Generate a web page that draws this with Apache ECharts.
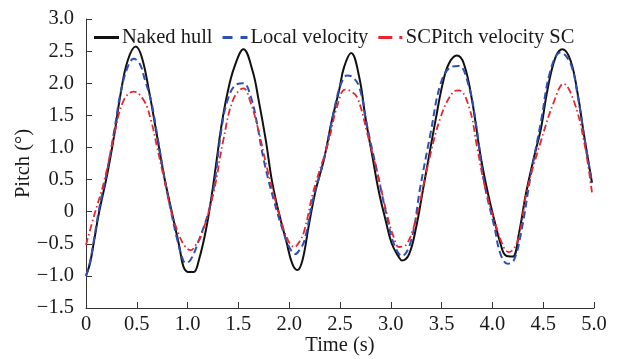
<!DOCTYPE html>
<html>
<head>
<meta charset="utf-8">
<script src="https://cdn.jsdelivr.net/npm/echarts@6/dist/echarts.min.js"></script>
<style>
  html, body { margin: 0; padding: 0; background: #fff; }
  #chart { width: 617px; height: 359px; }
</style>
</head>
<body>
<div id="chart"></div>
<script>
// pitch time histories
var nakedT = [0, 0.04, 0.08, 0.13, 0.21, 0.28, 0.34, 0.41, 0.49, 0.55, 0.62, 0.69, 0.77, 0.82, 0.87, 0.92, 0.96, 1.01, 1.06, 1.11, 1.18, 1.24, 1.29, 1.33, 1.39, 1.46, 1.55, 1.64, 1.70, 1.77, 1.83, 1.90, 1.97, 2.03, 2.08, 2.13, 2.19, 2.26, 2.34, 2.42, 2.49, 2.54, 2.61, 2.69, 2.75, 2.82, 2.88, 2.95, 3.01, 3.08, 3.11, 3.18, 3.25, 3.31, 3.38, 3.44, 3.51, 3.57, 3.65, 3.72, 3.80, 3.88, 3.95, 4.02, 4.08, 4.13, 4.20, 4.26, 4.33, 4.41, 4.48, 4.54, 4.62, 4.69, 4.77, 4.84, 4.90, 4.98];
var nakedV = [-1.0, -0.80, -0.45, 0.0, 0.59, 1.21, 1.83, 2.35, 2.57, 2.40, 1.88, 1.26, 0.54, 0.17, -0.19, -0.55, -0.86, -0.94, -0.94, -0.76, -0.29, 0.28, 0.85, 1.31, 1.83, 2.25, 2.53, 2.19, 1.73, 1.11, 0.48, -0.03, -0.45, -0.81, -0.91, -0.76, -0.24, 0.33, 0.80, 1.42, 1.88, 2.25, 2.47, 2.09, 1.47, 0.85, 0.33, -0.14, -0.50, -0.71, -0.76, -0.66, -0.24, 0.28, 0.90, 1.42, 1.99, 2.30, 2.43, 2.30, 1.73, 0.90, 0.33, -0.14, -0.50, -0.68, -0.70, -0.35, 0.28, 0.85, 1.31, 1.88, 2.40, 2.53, 2.35, 1.83, 1.21, 0.45];

var localT = [0, 0.04, 0.08, 0.13, 0.21, 0.28, 0.34, 0.41, 0.47, 0.53, 0.58, 0.64, 0.70, 0.77, 0.84, 0.90, 0.94, 0.98, 1.03, 1.11, 1.21, 1.27, 1.33, 1.39, 1.47, 1.55, 1.62, 1.68, 1.75, 1.85, 1.95, 2.01, 2.06, 2.10, 2.15, 2.24, 2.34, 2.44, 2.51, 2.57, 2.62, 2.69, 2.77, 2.87, 2.97, 3.03, 3.11, 3.20, 3.29, 3.39, 3.49, 3.59, 3.67, 3.77, 3.84, 3.92, 4.02, 4.08, 4.15, 4.21, 4.28, 4.38, 4.48, 4.57, 4.67, 4.77, 4.84, 4.90, 4.98];
var localV = [-1.0, -0.78, -0.42, 0.05, 0.65, 1.28, 1.85, 2.25, 2.38, 2.30, 2.05, 1.73, 1.20, 0.55, -0.02, -0.45, -0.68, -0.80, -0.75, -0.45, 0.02, 0.50, 1.25, 1.72, 1.97, 2.00, 1.80, 1.40, 0.80, 0.17, -0.35, -0.58, -0.66, -0.60, -0.45, 0.23, 0.80, 1.57, 1.99, 2.12, 2.10, 1.94, 1.31, 0.59, -0.14, -0.50, -0.69, -0.45, 0.38, 1.21, 1.99, 2.25, 2.27, 1.94, 1.35, 0.45, -0.24, -0.66, -0.81, -0.76, -0.35, 0.59, 1.42, 2.19, 2.48, 2.30, 1.80, 1.20, 0.45];

var scT = [0, 0.08, 0.18, 0.28, 0.37, 0.47, 0.57, 0.64, 0.70, 0.77, 0.84, 0.92, 0.98, 1.03, 1.08, 1.14, 1.26, 1.35, 1.45, 1.55, 1.62, 1.70, 1.78, 1.92, 1.99, 2.05, 2.10, 2.15, 2.24, 2.38, 2.47, 2.55, 2.60, 2.67, 2.77, 2.87, 2.97, 3.03, 3.08, 3.16, 3.26, 3.36, 3.49, 3.61, 3.67, 3.77, 3.85, 3.92, 4.02, 4.11, 4.16, 4.25, 4.34, 4.48, 4.61, 4.70, 4.80, 4.90, 4.98];
var scV = [-0.52, -0.06, 0.48, 1.21, 1.73, 1.87, 1.73, 1.42, 1.00, 0.50, 0.00, -0.38, -0.55, -0.60, -0.52, -0.35, 0.33, 1.10, 1.75, 1.92, 1.70, 1.25, 0.69, -0.14, -0.45, -0.55, -0.47, -0.29, 0.33, 1.05, 1.63, 1.90, 1.88, 1.78, 1.21, 0.59, -0.09, -0.40, -0.55, -0.50, -0.03, 0.69, 1.47, 1.86, 1.89, 1.63, 1.00, 0.43, -0.14, -0.55, -0.63, -0.45, 0.33, 1.11, 1.73, 1.99, 1.73, 1.11, 0.30];

var seriesNames = ['Naked hull', 'Local velocity', 'SCPitch velocity SC'];

function pairs(t, v) {
  var out = [];
  for (var i = 0; i < t.length; i++) out.push([t[i], v[i]]);
  return out;
}

function fmt(v) {
  if (v === 0) return '0';
  return v.toFixed(1).replace('-', '\u2212');
}

var font = 'Liberation Serif';
var fs = 20.5;
var txt = '#1a1a1a';
var black = '#111', blue = '#2f4fb3', red = '#e8262d';

var chart = echarts.init(document.getElementById('chart'));
var option = {
  animation: false,
  backgroundColor: '#fff',
  textStyle: { fontFamily: font, color: txt },
  grid: { left: 86, right: 23, top: 19, bottom: 51, containLabel: false, outerBoundsMode: 'none' },
  legend: {
    left: 89,
    top: 22,
    itemWidth: 25,
    itemHeight: 3,
    itemGap: 10,
    textStyle: { fontFamily: font, fontSize: fs, color: txt, padding: [0, 0, 0, -2] },
    data: [
      { name: seriesNames[0], icon: 'path://M0,0H25V3H0Z', itemStyle: { color: black } },
      { name: seriesNames[1], icon: 'path://M0,0H10V3H0Z M18,0H25V3H18Z', itemStyle: { color: blue } },
      { name: seriesNames[2], icon: 'path://M0,0H14V3H0Z M21,0H24V3H21Z', itemStyle: { color: red } }
    ]
  },
  xAxis: {
    type: 'value',
    min: 0,
    max: 5,
    interval: 0.5,
    name: 'Time (s)',
    nameLocation: 'middle',
    nameGap: 27,
    nameMoveOverlap: false,
    nameTextStyle: { fontFamily: font, fontSize: fs, color: txt },
    axisLine: { onZero: false, lineStyle: { color: '#333', width: 1 } },
    axisTick: { inside: true, length: 6, lineStyle: { color: '#333' } },
    axisLabel: { fontFamily: font, fontSize: fs, color: txt, margin: 6, formatter: fmt },
    splitLine: { show: false }
  },
  yAxis: {
    type: 'value',
    min: -1.5,
    max: 3,
    interval: 0.5,
    name: 'Pitch (°)',
    nameLocation: 'middle',
    nameGap: 52,
    nameMoveOverlap: false,
    nameTextStyle: { fontFamily: font, fontSize: fs, color: txt },
    axisLine: { show: true, onZero: false, lineStyle: { color: '#333', width: 1 } },
    axisTick: { show: true, inside: true, length: 6, lineStyle: { color: '#333' } },
    axisLabel: { fontFamily: font, fontSize: fs, color: txt, margin: 12, formatter: fmt },
    splitLine: { show: false }
  },
  series: [{
    name: seriesNames[0],
    type: 'line',
    smooth: 0.4,
    symbol: 'none',
    z: 3,
    itemStyle: { color: black },
    lineStyle: { color: black, width: 2 },
    data: pairs(nakedT, nakedV)
  }, {
    name: seriesNames[1],
    type: 'line',
    smooth: 0.4,
    symbol: 'none',
    z: 4,
    itemStyle: { color: blue },
    lineStyle: { color: blue, width: 2, type: [7, 4] },
    data: pairs(localT, localV)
  }, {
    name: seriesNames[2],
    type: 'line',
    smooth: 0.4,
    symbol: 'none',
    z: 5,
    itemStyle: { color: red },
    lineStyle: { color: red, width: 1.8, type: [7, 3, 1.5, 3] },
    data: pairs(scT, scV)
  }]
};
chart.setOption(option);
</script>
</body>
</html>
